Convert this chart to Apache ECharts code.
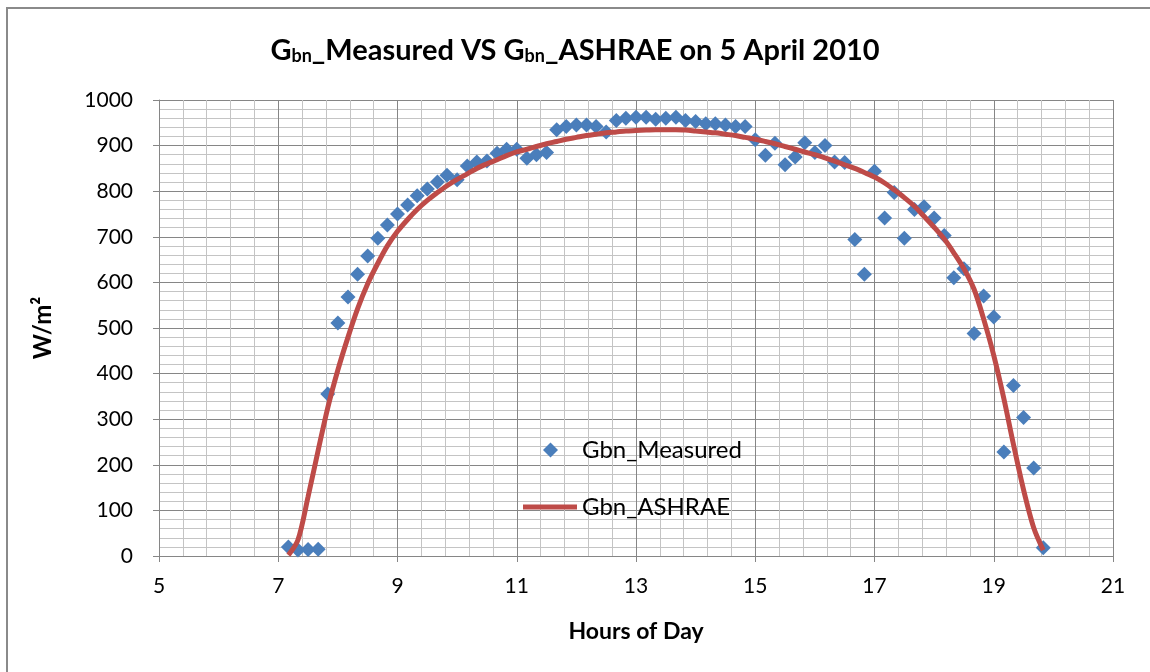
<!DOCTYPE html>
<html>
<head>
<meta charset="utf-8">
<script src="https://cdn.jsdelivr.net/npm/echarts@6/dist/echarts.min.js"></script>
<style>
  html, body { margin: 0; padding: 0; background: #fff; }
  #main { width: 1150px; height: 672px; }
</style>
</head>
<body>
<div id="main"></div>
<script>
// hours of day, 10 minute steps
var hours = [7.17, 7.33, 7.5, 7.67, 7.83,
    8, 8.17, 8.33, 8.5, 8.67, 8.83,
    9, 9.17, 9.33, 9.5, 9.67, 9.83,
    10, 10.17, 10.33, 10.5, 10.67, 10.83,
    11, 11.17, 11.33, 11.5, 11.67, 11.83,
    12, 12.17, 12.33, 12.5, 12.67, 12.83,
    13, 13.17, 13.33, 13.5, 13.67, 13.83,
    14, 14.17, 14.33, 14.5, 14.67, 14.83,
    15, 15.17, 15.33, 15.5, 15.67, 15.83,
    16, 16.17, 16.33, 16.5, 16.67, 16.83,
    17, 17.17, 17.33, 17.5, 17.67, 17.83,
    18, 18.17, 18.33, 18.5, 18.67, 18.83,
    19, 19.17, 19.33, 19.5, 19.67, 19.83];

var gbnMeasured = [20, 13, 14, 15, 355,
    511, 568, 618, 658, 697, 726,
    750, 770, 790, 805, 820, 835,
    825, 855, 864, 866, 883, 892,
    892, 872, 880, 885, 935, 942,
    945, 945, 942, 930, 955, 960,
    962, 962, 958, 960, 962, 955,
    953, 948, 948, 945, 942, 942,
    913, 879, 905, 858, 875, 906,
    885, 900, 864, 863, 694, 618,
    844, 741, 797, 697, 760, 766,
    741, 703, 610, 630, 488, 570,
    524, 228, 374, 304, 193, 18];

var gbnAshrae = [2, 35, 130, 232, 325,
    408, 480, 542, 597, 642, 680,
    712, 738, 760, 780, 797, 812,
    826, 838, 850, 860, 869, 878,
    886, 892, 898, 904, 909, 914,
    918, 922, 925, 928, 930, 932,
    933, 934, 935, 935, 935, 934,
    932, 930, 928, 925, 922, 918,
    914, 909, 904, 898, 892, 886,
    880, 873, 866, 858, 850, 841,
    831, 818, 803, 786, 767, 745,
    721, 695, 665, 630, 585, 520,
    440, 345, 245, 145, 62, 13];

var font = 'Lato';
var majorGrid = '#868686';
var minorGrid = '#c4c4c4';
var blue = '#4a7ebb';
var red = '#be4b48';

var chart = echarts.init(document.getElementById('main'));

option = {
    animation: false,
    textStyle: { fontFamily: font, color: '#000' },
    graphic: [
        {
            type: 'rect',
            shape: { x: 7, y: 8, width: 1170, height: 690 },
            style: { fill: 'none', stroke: '#8a8a8a', lineWidth: 2 },
            silent: true
        }
    ],
    title: {
        left: 'center',
        top: 30,
        text: '{a|G}{s|bn}{a|_Measured VS G}{s|bn}{a|_ASHRAE on 5 April 2010}',
        textStyle: {
            rich: {
                a: { fontFamily: font, fontWeight: 'bold', fontSize: 29, color: '#000', verticalAlign: 'bottom', lineHeight: 30 },
                s: { fontFamily: font, fontWeight: 'bold', fontSize: 18, color: '#000', verticalAlign: 'bottom', lineHeight: 10 }
            }
        }
    },
    legend: [
        {
            left: 538,
            top: 433,
            itemWidth: 15,
            itemHeight: 15,
            data: [{ name: 'Gbn_Measured', icon: 'diamond', itemStyle: { color: blue, opacity: 1 } }],
            textStyle: { fontFamily: font, fontSize: 24, color: '#000', padding: [0, 0, 0, 19] }
        },
        {
            left: 518,
            top: 490,
            itemWidth: 54,
            itemHeight: 5,
            data: [{ name: 'Gbn_ASHRAE', icon: 'rect' }],
            textStyle: { fontFamily: font, fontSize: 24, color: '#000' }
        }
    ],
    grid: { left: 159, right: 37, top: 100, bottom: 116 },
    xAxis: {
        type: 'value',
        min: 5,
        max: 21,
        interval: 2,
        name: 'Hours of Day',
        nameLocation: 'middle',
        nameGap: 64,
        nameTextStyle: { fontFamily: font, fontSize: 23, fontWeight: 'bold', color: '#000' },
        axisLine: { show: true, onZero: false, lineStyle: { color: majorGrid, width: 1 } },
        axisTick: { show: true, length: 6, lineStyle: { color: majorGrid } },
        axisLabel: { fontFamily: font, fontSize: 21, color: '#000', margin: 20 },
        splitLine: { show: true, lineStyle: { color: majorGrid, width: 1 } },
        minorTick: { show: false, splitNumber: 5 },
        minorSplitLine: { show: true, lineStyle: { color: minorGrid, width: 1 } }
    },
    yAxis: {
        type: 'value',
        min: 0,
        max: 1000,
        interval: 100,
        name: 'W/m²',
        nameLocation: 'middle',
        nameGap: 104,
        nameRotate: 90,
        nameTextStyle: { fontFamily: font, fontSize: 24, fontWeight: 'bold', color: '#000' },
        axisLine: { show: true, lineStyle: { color: majorGrid, width: 1 } },
        axisTick: { show: true, length: 6, lineStyle: { color: majorGrid } },
        axisLabel: {
            fontFamily: font, fontSize: 21, color: '#000', margin: 26,
            formatter: function (v) { return String(v); }
        },
        splitLine: { show: true, lineStyle: { color: majorGrid, width: 1 } },
        minorTick: { show: false, splitNumber: 5 },
        minorSplitLine: { show: true, lineStyle: { color: minorGrid, width: 1 } }
    },
    series: [
        {
            name: 'Gbn_Measured',
            type: 'scatter',
            symbol: 'diamond',
            symbolSize: 15,
            itemStyle: { color: blue, opacity: 1 },
            z: 2,
            data: hours.map(function (h, i) { return [h, gbnMeasured[i]]; })
        },
        {
            name: 'Gbn_ASHRAE',
            type: 'line',
            smooth: 0.3,
            showSymbol: false,
            symbol: 'none',
            lineStyle: { color: red, width: 5 },
            itemStyle: { color: red },
            z: 3,
            data: hours.map(function (h, i) { return [h, gbnAshrae[i]]; })
        }
    ]
};

chart.setOption(option);
</script>
</body>
</html>
